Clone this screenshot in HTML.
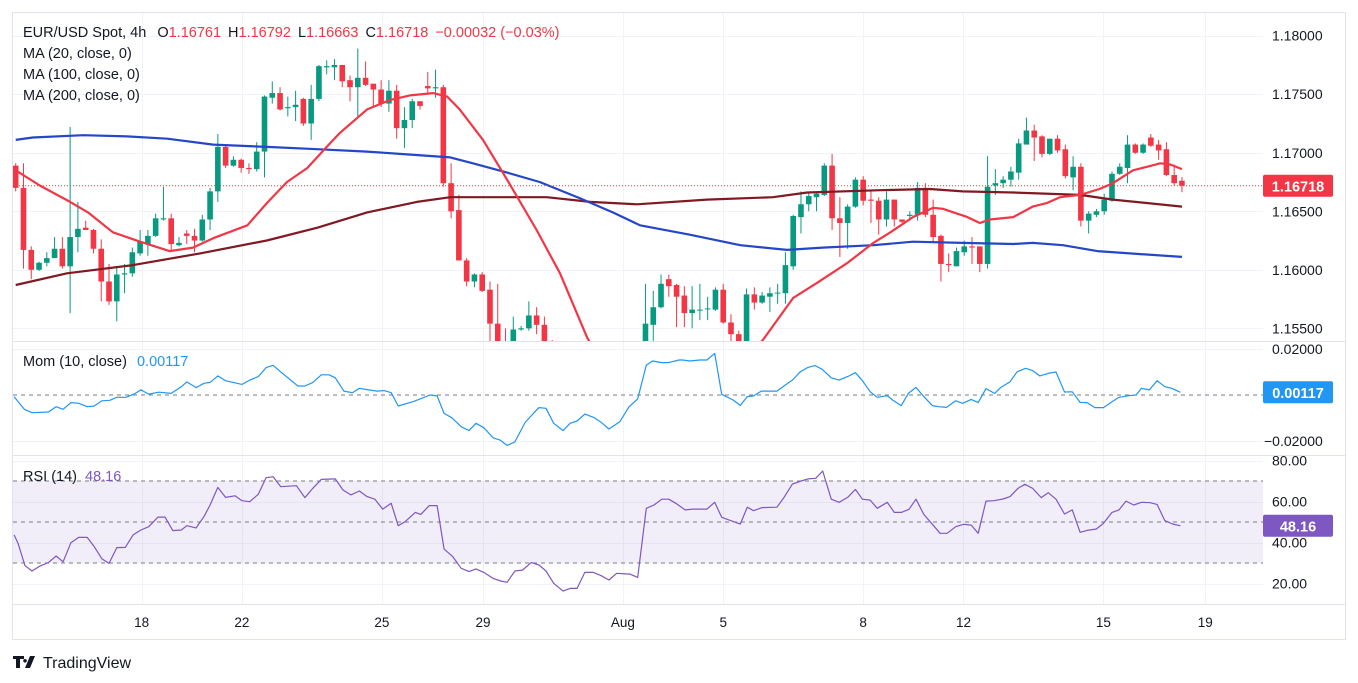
<!DOCTYPE html>
<html><head><meta charset="utf-8"><style>
html,body{margin:0;padding:0;background:#fff;}
svg{display:block;font-family:"Liberation Sans",sans-serif;}
</style></head><body>
<svg id="chart" width="1358" height="683" viewBox="0 0 1358 683" xmlns="http://www.w3.org/2000/svg">
<rect x="0" y="0" width="1358" height="683" fill="#ffffff"/>
<rect x="12.5" y="12.5" width="1333" height="627" fill="none" stroke="#e0e3eb"/>
<g id="grid"></g>
<g id="main" clip-path="url(#clipMain)"></g>
<g id="mom" clip-path="url(#clipMom)"></g>
<g id="rsi" clip-path="url(#clipRsi)"></g>
<g id="axes"></g>
<defs>
<clipPath id="clipMain"><rect x="13" y="13" width="1250" height="328"/></clipPath>
<clipPath id="clipMom"><rect x="13" y="342" width="1250" height="113"/></clipPath>
<clipPath id="clipRsi"><rect x="13" y="456" width="1250" height="148"/></clipPath>
</defs>
<line x1="13" y1="341.5" x2="1345" y2="341.5" stroke="#e0e3eb"/>
<line x1="13" y1="455.5" x2="1345" y2="455.5" stroke="#e0e3eb"/>
<line x1="13" y1="604.5" x2="1345" y2="604.5" stroke="#e0e3eb"/>
<g font-size="14.5" fill="#131722">
<text x="23" y="37">EUR/USD Spot, 4h <tspan dx="7">O</tspan><tspan fill="#f23645">1.16761</tspan><tspan dx="7">H</tspan><tspan fill="#f23645">1.16792</tspan><tspan dx="7">L</tspan><tspan fill="#f23645">1.16663</tspan><tspan dx="7">C</tspan><tspan fill="#f23645">1.16718</tspan><tspan dx="7" fill="#f23645">−0.00032 (−0.03%)</tspan></text>
<text x="23" y="58">MA (20, close, 0)</text>
<text x="23" y="79">MA (100, close, 0)</text>
<text x="23" y="100">MA (200, close, 0)</text>
<text x="23" y="366">Mom (10, close) <tspan dx="6" fill="#2196f3">0.00117</tspan></text>
<text x="23" y="481">RSI (14) <tspan dx="4" fill="#7e57c2">48.16</tspan></text>
</g>
<g>
<path d="M13 656h11v3h-4v9h-4v-9h-3z M25 659a1.8 1.8 0 1 0 0.01 0z M30 656h5l-5 12h-5z" fill="#131722"/>
<text x="43" y="668" font-size="16" fill="#131722">TradingView</text>
</g>
</svg>
<script>
// ---- data ----
const opens=[1.1689,1.1670,1.1617,1.1600,1.1606,1.1610,1.1618,1.1603,1.1628,1.1636,1.1634,1.1618,1.1590,1.1573,1.1596,1.1597,1.1614,1.1622,1.1629,1.1643,1.1644,1.1621,1.1631,1.1629,1.1625,1.1643,1.1667,1.1705,1.1689,1.1694,1.1687,1.1686,1.1701,1.1747,1.1751,1.1738,1.1739,1.1746,1.1725,1.1746,1.1773,1.1773,1.1775,1.1762,1.1756,1.1764,1.1759,1.1754,1.1742,1.1753,1.1721,1.1728,1.1744,1.1757,1.1755,1.1756,1.1674,1.1651,1.1608,1.1590,1.1596,1.1583,1.1554,1.1538,1.1534,1.1549,1.1550,1.1561,1.1553,1.1534,1.1505,1.1480,1.1450,1.1430,1.1425,1.1420,1.1415,1.1410,1.1400,1.1410,1.1405,1.1415,1.1553,1.1568,1.1592,1.1587,1.1578,1.1563,1.1566,1.1567,1.1566,1.1583,1.1555,1.1545,1.1535,1.1579,1.1572,1.1577,1.1580,1.1580,1.1603,1.1645,1.1656,1.1662,1.1664,1.1689,1.1644,1.1640,1.1654,1.1677,1.1660,1.1659,1.1643,1.1660,1.1643,1.1646,1.1647,1.1670,1.1647,1.1629,1.1605,1.1603,1.1615,1.1620,1.1620,1.1605,1.1672,1.1674,1.1677,1.1683,1.1707,1.1719,1.1714,1.1699,1.1712,1.1703,1.1679,1.1688,1.1642,1.1647,1.1650,1.1659,1.1682,1.1687,1.1707,1.1700,1.1713,1.1707,1.1703,1.1681,1.16761];
const highs=[1.1691,1.1691,1.1620,1.1607,1.1615,1.1628,1.1628,1.1722,1.1658,1.1642,1.1635,1.1626,1.1605,1.1603,1.1605,1.1619,1.1634,1.1634,1.1648,1.1671,1.1648,1.1628,1.1634,1.1635,1.1647,1.1670,1.1716,1.1706,1.1697,1.1695,1.1691,1.1709,1.1749,1.1761,1.1756,1.1748,1.1753,1.1747,1.1758,1.1775,1.1779,1.1780,1.1775,1.1766,1.1789,1.1778,1.1759,1.1762,1.1762,1.1758,1.1739,1.1746,1.1744,1.1769,1.1771,1.1758,1.1691,1.1664,1.1610,1.1597,1.1598,1.1590,1.1588,1.1550,1.1560,1.1552,1.1573,1.1568,1.1560,1.1540,1.1515,1.1490,1.1465,1.1445,1.1440,1.1435,1.1430,1.1425,1.1420,1.1425,1.1420,1.1588,1.1582,1.1596,1.1596,1.1588,1.1586,1.1586,1.1588,1.1577,1.1585,1.1588,1.1562,1.1548,1.1584,1.1585,1.1581,1.1585,1.1588,1.1615,1.1647,1.1667,1.1666,1.1667,1.1691,1.1699,1.1662,1.1656,1.1679,1.1680,1.1667,1.1662,1.1667,1.1660,1.1643,1.1650,1.1675,1.1674,1.1660,1.1630,1.1614,1.1619,1.1625,1.1628,1.1620,1.1697,1.1686,1.1680,1.1688,1.1712,1.1730,1.1724,1.1715,1.1712,1.1715,1.1707,1.1697,1.1691,1.1650,1.1652,1.1665,1.1684,1.1691,1.1715,1.1708,1.1708,1.1716,1.1711,1.1709,1.1690,1.16792];
const lows=[1.1667,1.1601,1.1592,1.1599,1.1603,1.1610,1.1601,1.1563,1.1615,1.1634,1.1614,1.1573,1.1570,1.1556,1.1580,1.1594,1.1612,1.1612,1.1628,1.1642,1.1617,1.1620,1.1622,1.1615,1.1624,1.1634,1.1658,1.1687,1.1688,1.1683,1.1682,1.1684,1.1679,1.1742,1.1736,1.1731,1.1727,1.1723,1.1711,1.1744,1.1767,1.1762,1.1756,1.1744,1.1731,1.1757,1.1739,1.1739,1.1735,1.1712,1.1704,1.1721,1.1737,1.1751,1.1747,1.1671,1.1644,1.1608,1.1586,1.1585,1.1581,1.1534,1.1528,1.1530,1.1531,1.1548,1.1548,1.1545,1.1528,1.1500,1.1470,1.1440,1.1420,1.1410,1.1405,1.1400,1.1395,1.1392,1.1391,1.1395,1.1395,1.1410,1.1520,1.1567,1.1577,1.1551,1.1551,1.1550,1.1557,1.1557,1.1565,1.1554,1.1534,1.1531,1.1533,1.1566,1.1571,1.1564,1.1571,1.1571,1.1600,1.1631,1.1650,1.1650,1.1663,1.1634,1.1611,1.1618,1.1653,1.1655,1.1640,1.1630,1.1637,1.1637,1.1640,1.1642,1.1642,1.1645,1.1623,1.1590,1.1598,1.1603,1.1612,1.1605,1.1598,1.1601,1.1664,1.1670,1.1671,1.1677,1.1707,1.1693,1.1696,1.1698,1.1700,1.1678,1.1668,1.1637,1.1631,1.1645,1.1647,1.1658,1.1681,1.1674,1.1699,1.1699,1.1705,1.1694,1.1680,1.1672,1.16663];
const closes=[1.1670,1.1617,1.1600,1.1606,1.1610,1.1618,1.1603,1.1628,1.1635,1.1634,1.1618,1.1590,1.1573,1.1596,1.1597,1.1615,1.1624,1.1629,1.1644,1.1644,1.1622,1.1623,1.1629,1.1625,1.1643,1.1667,1.1705,1.1689,1.1694,1.1687,1.1686,1.1701,1.1748,1.1751,1.1737,1.1739,1.1741,1.1725,1.1746,1.1774,1.1774,1.1775,1.1761,1.1756,1.1764,1.1758,1.1754,1.1742,1.1753,1.1721,1.1728,1.1744,1.1740,1.1755,1.1756,1.1674,1.1650,1.1608,1.1590,1.1596,1.1582,1.1554,1.1534,1.1536,1.1549,1.1550,1.1561,1.1553,1.1534,1.1505,1.1480,1.1450,1.1430,1.1425,1.1420,1.1415,1.1410,1.1400,1.1410,1.1405,1.1415,1.1554,1.1568,1.1588,1.1586,1.1577,1.1563,1.1566,1.1566,1.1567,1.1583,1.1555,1.1545,1.1535,1.1579,1.1572,1.1578,1.1580,1.15805,1.1604,1.1646,1.1656,1.1663,1.1665,1.1689,1.1644,1.1640,1.1654,1.1677,1.1659,1.1659,1.1643,1.1660,1.1643,1.1641,1.1647,1.1670,1.1647,1.1628,1.1605,1.1604,1.1616,1.1620,1.1619,1.1605,1.1671,1.1674,1.1677,1.1684,1.1708,1.1719,1.1713,1.1699,1.1712,1.1702,1.1680,1.1688,1.1642,1.1648,1.1650,1.1660,1.1682,1.1688,1.1707,1.1700,1.1707,1.1706,1.1702,1.1681,1.1674,1.16718];
const ma20Idx=[0,3.1,7,9.3,12.5,16,19.8,22.8,25.4,29.8,32.3,34.9,37.5,40,41.7,45.2,48.1,50.7,53.7,55.5,57.1,60.1,63.2,67,70,73.5,78,84,90,96.1,100,103.1,107,110.3,112.5,115.4,118,119.3,122.4,124,125.3,128.3,130.8,132.6,134.3,136.9,139.4,141.1,143.7,145.5,147.2,148.5,150];
const ma20Val=[1.1685,1.1672,1.1658,1.1649,1.1632,1.1624,1.1616,1.1619,1.1627,1.1638,1.1657,1.1675,1.1687,1.1705,1.1717,1.1737,1.1745,1.1749,1.1751,1.1748,1.1737,1.1711,1.1677,1.1634,1.1597,1.1542,1.1490,1.1460,1.1500,1.1540,1.1576,1.1589,1.1606,1.1623,1.1632,1.1645,1.1653,1.1652,1.1645,1.1640,1.1643,1.1645,1.1654,1.1657,1.1662,1.1664,1.1669,1.1674,1.1685,1.1688,1.1691,1.1690,1.1686];
const ma100Idx=[0,2.2,8.7,14.3,19.5,25.4,32.3,38.8,45.2,49.4,55.9,58.8,63.2,67.4,72.6,76.8,80.3,86.7,93.2,99.2,103.8,110.3,115.4,121.8,128.3,130.8,134.7,139.1,143.3,150];
const ma100Val=[1.1711,1.1713,1.1715,1.1714,1.1712,1.1707,1.1705,1.1703,1.1701,1.1699,1.1696,1.1691,1.1683,1.1675,1.1661,1.1649,1.1638,1.1630,1.1621,1.1617,1.1619,1.1621,1.1624,1.1623,1.1622,1.1623,1.1621,1.1616,1.1614,1.1611];
const ma200Idx=[0,6.6,15.1,23.7,32.3,38.8,45.2,51.6,55.9,68.3,73.9,79.9,88.9,97.4,101.8,111.2,117.6,121.8,128.3,136.9,141.1,150];
const ma200Val=[1.1587,1.1597,1.1604,1.1614,1.1625,1.1636,1.1649,1.1658,1.1662,1.1662,1.1658,1.1656,1.1660,1.1662,1.1666,1.1668,1.1669,1.1667,1.1666,1.1664,1.1660,1.1654];
const momIdx=[-0.2,1.1,2.1,4.2,5.2,6.1,7.1,8.1,9.2,10.1,11.1,12.1,13,14.2,15.2,16.1,17.1,18.4,20,21.3,22,23.2,24.2,25,26,27,29.1,30.1,31.2,32.2,33.1,34.2,35.1,36.3,37.2,38.2,39.3,40.3,41.1,42.2,43.3,44.2,45.4,46.5,47.4,48.3,49.2,51.1,52.1,53.3,54.2,55.1,56.1,57.3,58.3,59.2,60.2,61.4,62.3,63.2,64.2,65.5,66.5,67.3,68.2,69.2,70.4,71.3,72.2,73.2,74.3,75.2,76.3,77.7,78.9,80,81.1,81.9,83.1,84,85.3,85.8,86.7,88,88.9,89.9,90.8,92.3,93.2,94.1,94.9,95.9,97.9,98.8,99.9,100.9,101.9,102.8,103.7,104.9,105.9,107,108,108.9,109.9,110.8,112.1,112.8,113.9,114.8,115.8,116.8,117.9,118.7,119.7,120.9,121.8,122.9,123.8,124.8,125.9,126.7,127.9,128.8,129.9,130.8,131.7,132.8,133.8,134.9,135.9,136.9,137.8,138.8,139.9,141,141.9,143.1,144.1,144.8,145.8,146.8,147.8,148.7,149.8];
const momVal=[-0.0007,-0.0062,-0.0077,-0.0074,-0.0051,-0.0062,-0.0033,-0.0036,-0.0051,-0.0048,-0.0025,-0.0023,-0.0010,-0.0010,0.0004,0.0022,0.0004,0.0012,0.0007,0.0036,0.0057,0.0032,0.0051,0.0055,0.0083,0.0062,0.0046,0.0065,0.0080,0.0119,0.0129,0.0097,0.0072,0.0039,0.0039,0.0054,0.0088,0.0088,0.0075,0.0017,0.0010,0.0029,0.0022,0.0017,0.0019,0.0010,-0.0048,-0.0029,-0.0016,0.0000,-0.0004,-0.0080,-0.0099,-0.0138,-0.0155,-0.0123,-0.0142,-0.0186,-0.0196,-0.0219,-0.0204,-0.0120,-0.0083,-0.0055,-0.0058,-0.0123,-0.0155,-0.0123,-0.0113,-0.0083,-0.0097,-0.0116,-0.0148,-0.0116,-0.0051,-0.0017,0.0130,0.0148,0.0141,0.0141,0.0152,0.0152,0.0148,0.0152,0.0152,0.0181,0.0003,-0.0022,-0.0045,-0.0007,-0.0004,0.0017,0.0017,0.0039,0.0065,0.0101,0.0120,0.0128,0.0112,0.0075,0.0065,0.0080,0.0097,0.0062,0.0014,-0.0010,-0.0003,-0.0022,-0.0046,0.0007,0.0033,-0.0007,-0.0046,-0.0051,-0.0054,-0.0025,-0.0036,-0.0019,-0.0033,0.0028,0.0007,0.0033,0.0058,0.0101,0.0116,0.0106,0.0083,0.0094,0.0100,0.0013,0.0014,-0.0032,-0.0033,-0.0055,-0.0055,-0.0029,-0.0010,-0.0003,0.0000,0.0029,0.0022,0.0062,0.0036,0.0029,0.00117];
const rsiIdx=[-0.2,0.3,1.2,2.1,3.1,4.2,5.2,6.1,7.1,8.1,9.2,10.1,11.1,12,13,14.1,15.1,16.1,17.1,18.3,19.2,20.2,21.3,22,23.2,24.2,25,26,27,28.2,29.1,30.1,31.2,32.2,33.1,34.1,36.1,37.2,38.2,39.3,41.1,42.1,43.1,44.2,45.2,46.2,47.2,48.3,49.2,50.1,51.4,52.1,53.2,54.2,55.1,56.2,57.3,58.3,59.2,60.2,61.4,62.4,63.2,64.2,65.2,66.3,67.3,68.2,69.2,70.4,71.3,72.2,73.2,74.3,75.3,76.3,77.3,79,80,81.1,82.1,83.1,84,84.9,86.1,87.1,88.9,89.9,90.8,92.3,93.2,94.1,94.9,96,97.9,98.8,99.9,101,101.9,102.9,103.8,104.9,105.9,107,108,108.9,109.9,110.8,112.1,113,113.9,114.9,115.8,116.8,117.9,118.9,119.8,120.9,121.9,122.9,123.8,124.8,125.8,127,127.9,128.9,129.8,130.8,131.9,132.8,133.8,134.9,135.9,136.9,137.8,139,139.9,141,141.9,142.8,143.8,144.8,145.9,146.8,147.8,148.8,149.8];
const rsiVal=[43.7,39.6,28.7,26.1,28.5,30.2,33.4,30.6,39.9,42.5,42.5,38.0,32.0,29.8,37.5,37.6,43.7,46.1,47.7,52.4,52.4,45.8,46.1,48.2,47.1,52.6,58.3,66.9,62.0,62.8,60.4,59.9,63.5,71.6,72.1,67.2,67.7,61.9,66.4,70.8,71.0,65.6,63.2,65.1,62.4,61.1,56.3,59.1,48.2,50.2,54.7,53.7,58.0,58.0,36.8,33.1,27.4,25.8,27.1,25.4,22.5,21.2,20.6,26.1,26.6,30.2,29.0,26.1,20.1,16.3,17.6,17.6,25.4,25.4,23.8,21.7,25.0,24.6,23.0,56.7,58.3,61.1,61.1,59.1,55.9,56.3,56.3,59.6,52.3,50.2,49.0,57.2,55.5,57.0,57.2,61.9,68.5,70.0,71.0,71.3,74.9,61.1,59.6,62.0,65.9,61.1,60.7,56.7,59.6,54.7,54.7,56.2,61.1,53.7,48.9,44.5,44.5,47.7,48.9,48.5,44.5,60.2,60.4,61.2,62.4,66.4,68.4,66.4,61.9,64.3,61.1,53.9,55.9,45.0,45.9,46.6,49.3,54.7,55.9,60.2,58.3,59.6,59.4,58.6,50.7,49.0,48.16];
const timeLabels=["18","22","25","29","Aug","5","8","12","15","19"];
const timeIdx=[16.2,29.1,47.1,60.1,78.1,91.0,109.0,121.9,139.9,153.0];
const priceTicks=[1.18,1.175,1.17,1.165,1.16,1.155];
const momTicks=[0.02,-0.02];
const rsiTicks=[80,60,40,20];
const lastPrice=1.16718, lastMom=0.00117, lastRsi=48.16;

// ---- scales ----
const NS="http://www.w3.org/2000/svg";
const xOf=i=>15.7+i*7.775;
const yP=p=>35.7+(1.18-p)*11705;
const yM=v=>395-v*2300;
const yR=v=>481+(70-v)*2.05;
function mk(tag,attrs,parent){const e=document.createElementNS(NS,tag);for(const k in attrs)e.setAttribute(k,attrs[k]);parent.appendChild(e);return e;}
const grid=document.getElementById('grid'),main=document.getElementById('main'),mom=document.getElementById('mom'),rsi=document.getElementById('rsi'),axes=document.getElementById('axes');

timeIdx.forEach((t,i)=>{const x=Math.round(xOf(t))+0.5;
 const gl=mk('line',{x1:x,y1:13,x2:x,y2:604,stroke:'#f0f3fa'},grid);
 
 
 const tl=mk('text',{x:xOf(t),y:627,'text-anchor':'middle','font-size':13.5,fill:'#131722'},axes);
 tl.textContent=timeLabels[i];
 
 });
priceTicks.forEach(p=>{const y=Math.round(yP(p))+0.5;
 const gl=mk('line',{x1:13,y1:y,x2:1263,y2:y,stroke:'#f0f3fa'},grid);
 
 
 const tl=mk('text',{x:1272,y:yP(p)+5,'font-size':14,fill:'#131722'},axes);
 tl.textContent=p.toFixed(5);
 
 });
momTicks.forEach(v=>{const y=Math.round(yM(v))+0.5;
 const gl=mk('line',{x1:13,y1:y,x2:1263,y2:y,stroke:'#f0f3fa'},grid);
 
 
 const tl=mk('text',{x:v<0?1264:1272,y:yM(v)+5,'font-size':14,fill:'#131722'},axes);
 tl.textContent=(v<0?'−':'')+Math.abs(v).toFixed(5);
 
 });
const band=mk('rect',{x:13,y:yR(70),width:1250,height:yR(30)-yR(70),fill:'#7e57c2','fill-opacity':0.1},rsi);


rsiTicks.forEach(v=>{const y=Math.round(yR(v))+0.5;
 const gl=mk('line',{x1:13,y1:y,x2:1263,y2:y,stroke:'#f0f3fa'},grid);
 
 
 const tl=mk('text',{x:1272,y:yR(v)+5,'font-size':14,fill:'#131722'},axes);
 tl.textContent=v.toFixed(2);
 
 });
[70,50,30].forEach(v=>{const l=mk('line',{x1:13,y1:yR(v),x2:1263,y2:yR(v),stroke:'#787b86','stroke-dasharray':'4 4'},rsi);
 
 });
const zl=mk('line',{x1:13,y1:yM(0),x2:1263,y2:yM(0),stroke:'#787b86','stroke-dasharray':'4 4'},mom);



for(let i=0;i<opens.length;i++){
 const up=closes[i]>=opens[i];const col=up?'#089981':'#f23645';const x=xOf(i);
 const g=mk('g',{},main);
 
 
 mk('line',{x1:x,y1:yP(highs[i]),x2:x,y2:yP(lows[i]),stroke:col,'stroke-width':1},g);
 const top=yP(Math.max(opens[i],closes[i])),bot=yP(Math.min(opens[i],closes[i]));
 mk('rect',{x:x-2.8,y:top,width:5.6,height:Math.max(1,bot-top),fill:col},g);
}
function line(idx,vals,yf,col,w,parent,name){
 const d=idx.map((t,i)=>(i?'L':'M')+xOf(t).toFixed(1)+' '+yf(vals[i]).toFixed(1)).join('');
 const p=mk('path',{d:d,fill:'none',stroke:col,'stroke-width':w,'stroke-linejoin':'round'},parent);
 
 
}
line(ma200Idx,ma200Val,yP,'#801922',2.2,main,'ma200-line');
line(ma100Idx,ma100Val,yP,'#2446c9',2.2,main,'ma100-line');
line(ma20Idx,ma20Val,yP,'#f23645',2.2,main,'ma20-line');
const pl=mk('line',{x1:13,y1:yP(lastPrice),x2:1263,y2:yP(lastPrice),stroke:'#f23645','stroke-dasharray':'1 2'},main);


line(momIdx,momVal,yM,'#2196f3',1.2,mom,'momentum-line');
line(rsiIdx,rsiVal,yR,'#7e57c2',1.2,rsi,'rsi-line');

function box(y,col,txt,name){const g=mk('g',{},axes);
 
 
 mk('rect',{x:1263,y:y-11,width:70,height:22,rx:2,fill:col},g);
 const t=mk('text',{x:1298,y:y+5.5,'text-anchor':'middle','font-size':14.5,'font-weight':'bold',fill:'#fff'},g);t.textContent=txt;}
box(yP(lastPrice),'#f23645','1.16718','last-price-label');
box(yM(lastMom),'#2196f3','0.00117','mom-value-label');
box(yR(lastRsi),'#7e57c2','48.16','rsi-value-label');
</script>
</body></html>
